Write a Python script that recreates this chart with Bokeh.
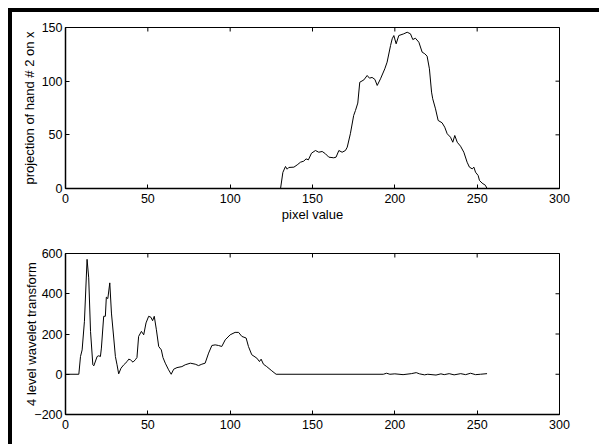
import math
from bokeh.plotting import figure
from bokeh.models import Range1d, FixedTicker, Spacer
from bokeh.layouts import column, row
from bokeh.embed import file_html
from bokeh.resources import INLINE

# ---- data ----
hand_x = [0, 130, 130.6, 132, 133.6, 134.6, 135.6, 138.7, 140.7, 142.7,
          144.7, 146.1, 147.5, 149.4, 151.8, 153.8, 155.9, 157.9, 159.9, 162.9,
          164.3, 166, 168, 170, 171.1, 173, 175, 176.1, 177.5, 178.7,
          181.2, 183.2, 184.6, 186.2, 187.9, 189.3, 191.3, 193.9, 195.3, 197.4,
          198.4, 199.4, 200.8, 202.4, 205.4, 207.5, 209.5, 210.9, 212.5, 214.6,
          216.6, 218.2, 219.6, 221, 222.3, 223, 224.7, 226.3, 228.7, 230.3,
          231.8, 233.8, 235.2, 236.4, 237.9, 239.9, 241.9, 243.9, 245.3, 247,
          248, 249, 250.6, 251.4, 253, 255, 256]
hand_y = [0, 0, 0, 15, 20.5, 18, 19.6, 19.9, 22, 24.5,
          25.5, 27.6, 26.7, 32.9, 35.4, 33.8, 34.5, 32.3, 29.2, 28.6,
          29.2, 35.4, 33.8, 35.4, 38.5, 51, 68, 72.7, 79.6, 99,
          101.2, 105.3, 102.8, 103.5, 101.6, 96, 102.2, 111.5, 117.7, 133.2,
          139.5, 142.5, 134.8, 142.5, 144.1, 145.6, 144.1, 138.8, 140, 136.3,
          127, 125.5, 123.3, 111.5, 89.8, 83.6, 74.2, 63.4, 61.2, 57.1,
          51, 47.8, 43.1, 49.4, 43.1, 39.4, 33.8, 24.5, 19.9, 18.3,
          19.9, 15.2, 12.1, 7.5, 5, 3, 0]

wave_x = [0, 8.1, 9.1, 10.1, 11.5, 13.1, 14.1, 15.2, 16.6, 17.2,
          19.2, 20.2, 21.2, 21.8, 23.2, 24.2, 24.8, 25.7, 26.9, 27.9,
          29.3, 30.3, 31.3, 32.3, 33.7, 35.4, 37.4, 38.4, 39.4, 41,
          42.4, 43.4, 44.4, 46.1, 47.5, 48.9, 50.5, 51.9, 52.9, 53.9,
          55.2, 56.6, 58.2, 59.2, 60.6, 62.6, 64.2, 65.7, 67.7, 70.7,
          72.7, 75.8, 78.8, 80.8, 82.8, 84.8, 86.9, 88.9, 90.9, 92.9,
          94.9, 97, 100, 103, 105.1, 107.1, 109.7, 111.1, 113.1, 116.2,
          117.8, 118.8, 120.2, 122.2, 125.3, 127.9, 193, 195, 197, 200,
          205, 210, 213, 215, 218, 220, 225, 228, 230, 233,
          236, 240, 243, 246, 249, 252, 256]
wave_y = [0, 0, 88, 121, 263, 571, 479, 213, 47, 42,
          88, 92, 88, 130, 288, 288, 383, 376, 454, 304,
          180, 88, 47, 2, 30, 47, 63, 75, 72, 60,
          72, 83, 188, 213, 196, 255, 288, 283, 266, 288,
          221, 138, 121, 83, 55, 22, 0, 25, 33, 38,
          47, 55, 50, 43, 50, 55, 105, 143, 146, 143,
          138, 171, 196, 208, 208, 188, 180, 138, 97, 80,
          63, 75, 50, 38, 17, 0, 0, 5, 0, 2,
          -2, 3, 8, 2, -3, 0, -4, 2, -2, 3,
          -3, 3, -2, 5, -2, 0, 3]

x_range_ends = (0, 300)
y1_range_ends = (0, 150)
y2_range_ends = (-200, 600)
x_ticks = [0, 50, 100, 150, 200, 250, 300]
y1_ticks = [0, 50, 100, 150]
y2_ticks = [-200, 0, 200, 400, 600]

FONT = "Liberation Sans"
TICK_FS = "12.5px"
LABEL_FS = "13px"


def style_axis(ax, ticks):
    ax.ticker = FixedTicker(ticks=ticks)
    ax.minor_tick_line_color = None
    ax.major_tick_in = 4
    ax.major_tick_out = 0
    ax.axis_line_color = "black"
    ax.axis_line_width = 1.5
    ax.major_tick_line_color = "black"
    ax.major_label_text_font = FONT
    ax.major_label_text_color = "black"
    ax.major_label_text_font_size = TICK_FS
    ax.axis_label_text_font = FONT
    ax.axis_label_text_font_style = "normal"
    ax.axis_label_text_color = "black"
    ax.axis_label_text_font_size = LABEL_FS


def make_fig(xs, ys, yr, yticks, top, bottom, ylabel, ylab_standoff, xlabel=None):
    p = figure(width=587, height=top + 161 + bottom,
               output_backend="svg", toolbar_location=None,
               x_range=Range1d(*x_range_ends), y_range=Range1d(*yr),
               min_border_left=53, min_border_right=40,
               min_border_top=top, min_border_bottom=bottom)
    p.grid.visible = False
    p.outline_line_color = "black"
    p.outline_line_width = 1
    p.background_fill_color = "white"
    p.border_fill_color = "white"
    p.line(xs, ys, line_color="black", line_width=1)

    # mirrored inward ticks on top and right edges (clipped to the frame)
    p.scatter(x_ticks, [yr[1]] * len(x_ticks), marker="dash", size=8,
              angle=math.pi / 2, line_color="black", line_width=1)
    p.scatter([x_range_ends[1]] * len(yticks), yticks, marker="dash", size=8,
              line_color="black", line_width=1)

    style_axis(p.xaxis[0], x_ticks)
    p.xaxis[0].major_label_standoff = 5
    if xlabel:
        p.xaxis[0].axis_label = xlabel
        p.xaxis[0].axis_label_standoff = 1
    style_axis(p.yaxis[0], yticks)
    p.yaxis[0].major_label_standoff = 3
    p.yaxis[0].axis_label = ylabel
    p.yaxis[0].axis_label_standoff = ylab_standoff
    return p


p1 = make_fig(hand_x, hand_y, y1_range_ends, y1_ticks, 15, 40,
              "projection of hand # 2 on x", 2, "pixel value")
p2 = make_fig(wave_x, wave_y, y2_range_ends, y2_ticks, 25, 30,
              "4 level wavelet transform", -8)

black = {"background-color": "black"}
top_gap = Spacer(width=599, height=8)
left_gap = Spacer(width=8, height=436)
vbar = Spacer(width=4, height=436, styles=black)
hbar = Spacer(width=587, height=4, styles=black)
inner = column(hbar, p1, p2, spacing=0)
mid = row(left_gap, vbar, inner, spacing=0)
layout = column(top_gap, mid, spacing=0, styles={"background-color": "white"})

open("out.html", "w").write(file_html(layout, INLINE))
